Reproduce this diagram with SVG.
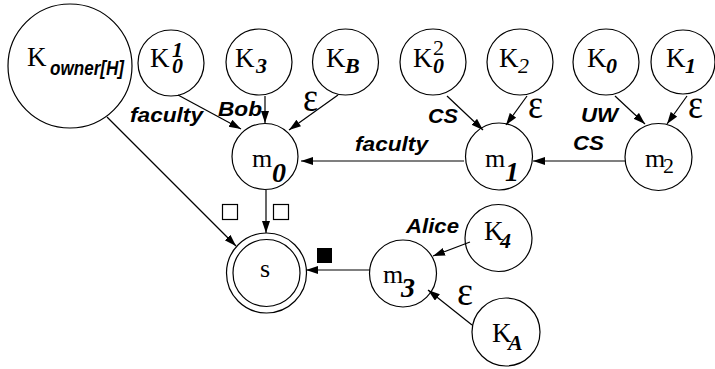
<svg xmlns="http://www.w3.org/2000/svg" width="715" height="369" viewBox="0 0 715 369">
<style>
.n{fill:none;stroke:#000;stroke-width:1.2}
.e{stroke:#000;stroke-width:1.2;fill:none;marker-end:url(#ah)}
.t{font-family:"Liberation Serif",serif;font-size:27px;fill:#000}
.m{font-family:"Liberation Serif",serif;font-size:26px;fill:#000}
.sb{font-family:"Liberation Serif",serif;font-size:22px;font-weight:bold;font-style:italic;fill:#000}
.sm{font-family:"Liberation Serif",serif;font-size:28px;font-weight:bold;font-style:italic;fill:#000}
.up{font-family:"Liberation Serif",serif;font-size:22px;fill:#000}
.l{font-family:"Liberation Sans",Arial,sans-serif;font-size:20px;font-weight:bold;font-style:italic;fill:#000}
.eps{font-family:"Liberation Serif",serif;font-size:40px;fill:#000}
</style>
<defs>
<marker id="ah" markerUnits="userSpaceOnUse" markerWidth="13" markerHeight="9" refX="12" refY="4" orient="auto">
<path d="M0,0 L12,4 L0,8 z" fill="#000"/>
</marker>
</defs>
<g id="connectors">
<line class="e" x1="107" y1="117" x2="236" y2="246"/>
<line class="e" x1="178" y1="95" x2="241" y2="129"/>
<line class="e" x1="265" y1="96" x2="265" y2="123"/>
<line class="e" x1="338" y1="95" x2="289" y2="130"/>
<line class="e" x1="266" y1="190" x2="266" y2="233"/>
<line class="e" x1="464" y1="161" x2="301" y2="161"/>
<line class="e" x1="447" y1="96" x2="483" y2="130"/>
<line class="e" x1="527" y1="96" x2="506" y2="125"/>
<line class="e" x1="625" y1="161" x2="533" y2="161"/>
<line class="e" x1="615" y1="96" x2="645" y2="124"/>
<line class="e" x1="687" y1="96" x2="667" y2="124"/>
<line class="e" x1="370" y1="270" x2="306" y2="270"/>
<line class="e" x1="470" y1="242" x2="433" y2="256"/>
<line class="e" x1="472" y1="325" x2="428" y2="290"/>
<text class="l" x="130" y="122" textLength="73" lengthAdjust="spacingAndGlyphs">faculty</text>
<text class="l" x="218" y="116" textLength="44" lengthAdjust="spacingAndGlyphs">Bob</text>
<text class="eps" x="303" y="111" textLength="15" lengthAdjust="spacingAndGlyphs">ε</text>
<text class="l" x="355" y="151" textLength="73" lengthAdjust="spacingAndGlyphs">faculty</text>
<text class="l" x="428" y="123" textLength="30" lengthAdjust="spacingAndGlyphs">CS</text>
<text class="eps" x="528" y="118" textLength="15" lengthAdjust="spacingAndGlyphs">ε</text>
<text class="l" x="581" y="122" textLength="37" lengthAdjust="spacingAndGlyphs">UW</text>
<text class="l" x="573" y="150" textLength="31" lengthAdjust="spacingAndGlyphs">CS</text>
<text class="eps" x="688" y="118" textLength="15" lengthAdjust="spacingAndGlyphs">ε</text>
<text class="l" x="406" y="233" textLength="53" lengthAdjust="spacingAndGlyphs">Alice</text>
<text class="eps" x="457" y="305" textLength="16" lengthAdjust="spacingAndGlyphs">ε</text>
<rect x="222.5" y="204.5" width="15" height="15" fill="#fff" stroke="#000" stroke-width="1.2"/>
<rect x="273.5" y="204.5" width="15" height="15" fill="#fff" stroke="#000" stroke-width="1.2"/>
<rect x="317" y="248" width="15" height="15" fill="#000"/>
</g>
<g id="Kowner"><circle class="n" cx="70" cy="66" r="62"/><text class="t" x="27" y="66" font-size="30">K</text><text class="l" x="50" y="75" textLength="74" lengthAdjust="spacingAndGlyphs" font-size="18">owner[H]</text></g>
<g id="K01"><circle class="n" cx="171" cy="63" r="33"/><text class="t" x="150" y="67">K</text><text class="sb" x="172" y="57">1</text><text class="sb" x="172" y="73">0</text></g>
<g id="K3"><circle class="n" cx="259" cy="62" r="33"/><text class="t" x="235" y="67">K</text><text class="sb" x="256" y="73">3</text></g>
<g id="KB"><circle class="n" cx="345.5" cy="62" r="33"/><text class="t" x="326" y="67">K</text><text class="sb" x="345" y="73">B</text></g>
<g id="K02"><circle class="n" cx="433" cy="62" r="33"/><text class="t" x="413" y="67">K</text><text class="up" x="433" y="55">2</text><text class="sb" x="433" y="73">0</text></g>
<g id="K2"><circle class="n" cx="520" cy="62" r="33"/><text class="t" x="499" y="67">K</text><text class="up" x="518" y="73" font-style="italic">2</text></g>
<g id="K0"><circle class="n" cx="606" cy="62" r="33"/><text class="t" x="587" y="67">K</text><text class="sb" x="606" y="73">0</text></g>
<g id="K1"><circle class="n" cx="683" cy="62" r="32"/><text class="t" x="666" y="67">K</text><text class="sb" x="685" y="73">1</text></g>
<g id="m0"><circle class="n" cx="265" cy="156.5" r="33"/><text class="m" x="252" y="167">m</text><text class="sm" x="272" y="182">0</text></g>
<g id="m1"><circle class="n" cx="499" cy="156.5" r="33.5"/><text class="m" x="485" y="167">m</text><text class="sm" x="505" y="181">1</text></g>
<g id="m2"><circle class="n" cx="658.5" cy="157" r="33.5"/><text class="m" x="645" y="167">m</text><text class="up" x="663" y="173" font-size="24">2</text></g>
<g id="m3"><circle class="n" cx="403" cy="273.5" r="33.5"/><text class="m" x="383" y="283">m</text><text class="sm" x="401" y="297">3</text></g>
<g id="s"><circle class="n" cx="266.5" cy="273" r="40"/><circle class="n" cx="266.5" cy="273" r="33.5"/><text class="m" x="260" y="277">s</text></g>
<g id="K4"><circle class="n" cx="498.5" cy="238" r="33.5"/><text class="t" x="484" y="240">K</text><text class="sb" x="500" y="248">4</text></g>
<g id="KA"><circle class="n" cx="506" cy="332" r="34"/><text class="t" x="492" y="342">K</text><text class="sb" x="508" y="350">A</text></g>
</svg>
